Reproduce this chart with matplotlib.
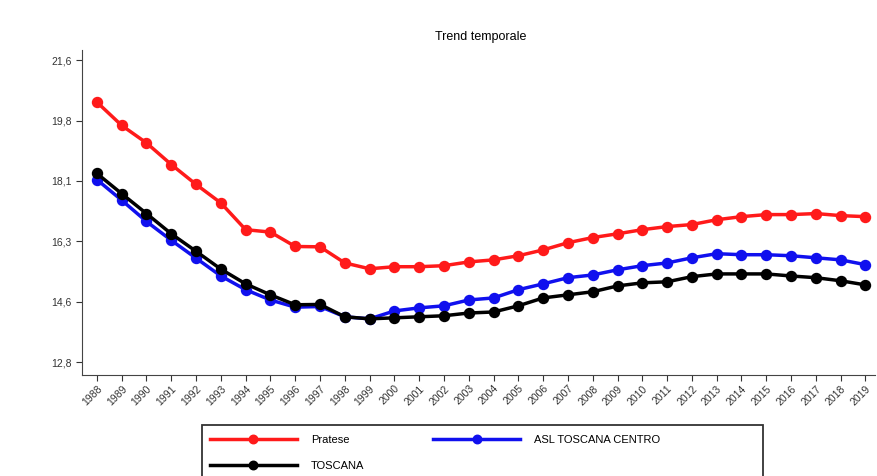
import numpy as np
import matplotlib
matplotlib.use("Agg")
import matplotlib.pyplot as plt
from matplotlib.ticker import FuncFormatter
from matplotlib.patches import Rectangle

plt.rcParams['font.family'] = ['Liberation Sans', 'DejaVu Sans']

years = list(range(1988, 2020))

pratese = [20.38, 19.70, 19.19, 18.56, 17.98, 17.44, 16.66, 16.59, 16.17, 16.16,
           15.69, 15.52, 15.58, 15.58, 15.61, 15.72, 15.78, 15.90, 16.07, 16.28,
           16.43, 16.54, 16.66, 16.75, 16.81, 16.95, 17.04, 17.10, 17.10, 17.13,
           17.07, 17.04]
asl_centro = [18.12, 17.52, 16.90, 16.35, 15.83, 15.31, 14.91, 14.61, 14.40, 14.42,
              14.12, 14.06, 14.29, 14.38, 14.44, 14.61, 14.67, 14.91, 15.08, 15.26,
              15.34, 15.49, 15.61, 15.69, 15.84, 15.96, 15.93, 15.93, 15.90, 15.84,
              15.78, 15.64]
toscana = [18.30, 17.71, 17.13, 16.54, 16.03, 15.51, 15.08, 14.76, 14.47, 14.48,
           14.12, 14.06, 14.09, 14.12, 14.15, 14.23, 14.26, 14.44, 14.67, 14.76,
           14.85, 15.02, 15.11, 15.14, 15.29, 15.37, 15.37, 15.37, 15.31, 15.26,
           15.17, 15.05]

yticks = [12.8, 14.56, 16.32, 18.08, 19.84, 21.6]

fig = plt.figure(figsize=(8.78, 4.76), dpi=100)
ax = fig.add_axes([0.0934, 0.212, 0.9036, 0.683])

h1, = ax.plot(years, pratese, color='#ff1a1a', lw=2.5, marker='o', ms=7.2, label='Pratese')
h3, = ax.plot(years, asl_centro, color='#1010ee', lw=2.5, marker='o', ms=7.2, label='ASL TOSCANA CENTRO')
h2, = ax.plot(years, toscana, color='black', lw=2.5, marker='o', ms=7.2, label='TOSCANA')

ax.set_xlim(1987.4, 2019.4)
ax.set_ylim(12.42, 21.9)
ax.set_yticks(yticks)
ax.yaxis.set_major_formatter(FuncFormatter(lambda v, p: f"{v:.1f}".replace('.', ',')))
ax.set_xticks(years)
ax.set_xticklabels([str(y) for y in years], rotation=45, ha='right', rotation_mode='anchor')
ax.tick_params(labelsize=7.5, direction='out', length=4, colors='#333333')
ax.tick_params(axis='x', pad=2)

for s in ['top', 'right']:
    ax.spines[s].set_visible(False)
for s in ['left', 'bottom']:
    ax.spines[s].set_color('#444444')

fig.text(0.547, 0.922, 'Trend temporale', ha='center', va='center', fontsize=9)

# legend box runs off the bottom of the image, as in the original
fig.patches.append(Rectangle((0.230, -0.05), 0.639, 0.157, transform=fig.transFigure,
                             fill=False, edgecolor='#333333', lw=1.3))
fig.legend([h1, h2, h3], ['Pratese', 'TOSCANA', 'ASL TOSCANA CENTRO'],
           ncol=2, loc='upper left', bbox_to_anchor=(0.239, 0.087),
           frameon=False, fontsize=8, handlelength=7.8, handletextpad=1.3,
           columnspacing=6.2, borderpad=0, borderaxespad=0, labelspacing=1.45,
           markerscale=0.85)

fig.savefig('out.png', dpi=100)
